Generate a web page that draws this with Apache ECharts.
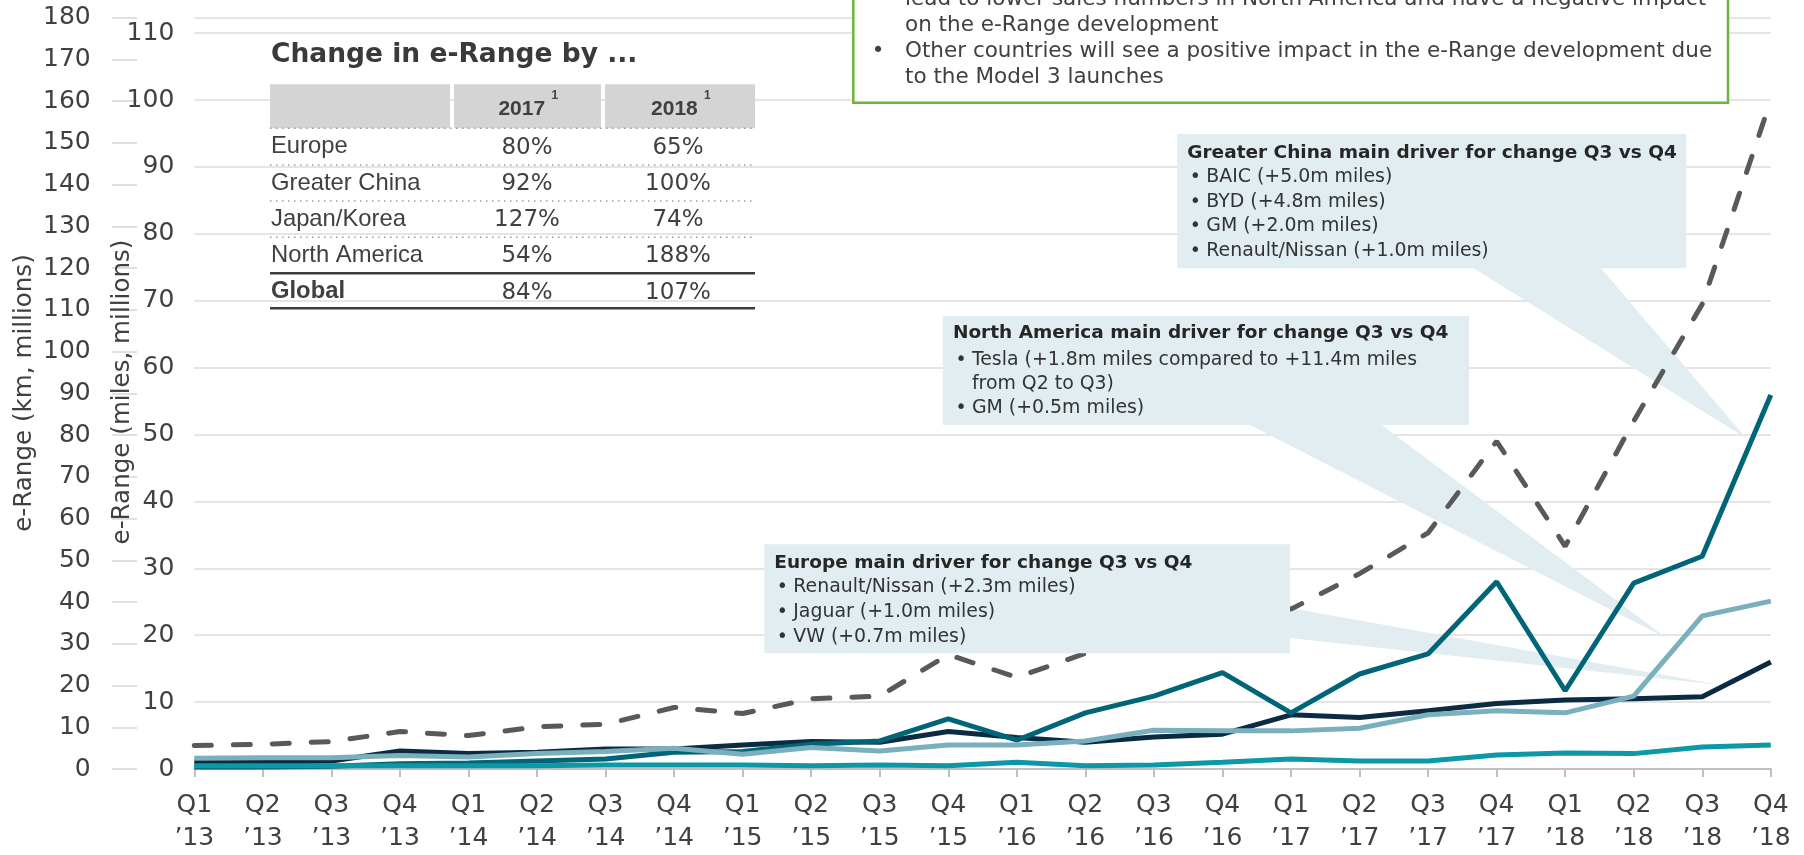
<!DOCTYPE html>
<html><head><meta charset="utf-8">
<script src="https://cdn.jsdelivr.net/npm/echarts@6/dist/echarts.min.js"></script>
<style>html,body{margin:0;padding:0;background:#fff}#c{width:1804px;height:855px}</style>
</head><body><div id="c"></div>
<script>
// ---- data (e-Range, miles, millions) ----
const categories = ["Q1\n’13","Q2\n’13","Q3\n’13","Q4\n’13","Q1\n’14","Q2\n’14","Q3\n’14","Q4\n’14",
  "Q1\n’15","Q2\n’15","Q3\n’15","Q4\n’15","Q1\n’16","Q2\n’16","Q3\n’16","Q4\n’16",
  "Q1\n’17","Q2\n’17","Q3\n’17","Q4\n’17","Q1\n’18","Q2\n’18","Q3\n’18","Q4\n’18"];
const globalMiles = [3.5,3.7,4.1,5.6,5.0,6.3,6.7,9.2,8.3,10.5,10.9,17.1,13.7,17.3,22.0,26.3,23.9,29.2,35.3,49.0,33.3,52.0,69.5,100.0];
const europeMiles = [1.1,1.0,1.2,2.7,2.3,2.5,3.0,3.0,3.6,4.1,4.0,5.6,4.7,4.0,4.8,5.2,8.1,7.7,8.7,9.8,10.3,10.5,10.8,16.0];
const northAmericaMiles = [1.6,1.7,1.7,2.0,1.8,2.3,2.6,3.1,2.2,3.2,2.7,3.6,3.6,4.2,5.8,5.7,5.7,6.1,8.1,8.7,8.4,10.9,22.9,25.1];
const greaterChinaMiles = [0.3,0.3,0.4,0.8,0.9,1.2,1.5,2.5,2.6,3.7,4.2,7.5,4.3,8.4,10.9,14.4,8.4,14.2,17.2,28.0,11.7,27.8,31.8,55.9];
const japanKoreaMiles = [0.5,0.5,0.5,0.5,0.5,0.5,0.6,0.6,0.6,0.5,0.6,0.5,1.0,0.5,0.6,1.0,1.5,1.2,1.2,2.1,2.4,2.3,3.3,3.6];

// ---- table ----
const tableTitle = "Change in e-Range by ...";
const tableYears = ["2017","2018"];
const tableRegions = ["Europe","Greater China","Japan/Korea","North America","Global"];
const change2017 = ["80%","92%","127%","54%","84%"];
const change2018 = ["65%","100%","74%","188%","107%"];

// ---- annotation texts ----
const noteLines = ["lead to lower sales numbers in North America and have a negative impact",
  "on the e-Range development",
  "Other countries will see a positive impact in the e-Range development due",
  "to the Model 3 launches"];
const chinaTitle = "Greater China main driver for change Q3 vs Q4";
const chinaItems = ["BAIC (+5.0m miles)","BYD (+4.8m miles)","GM (+2.0m miles)","Renault/Nissan (+1.0m miles)"];
const naTitle = "North America main driver for change Q3 vs Q4";
const naItems = ["Tesla (+1.8m miles compared to +11.4m miles","from Q2 to Q3)","GM (+0.5m miles)"];
const naBullets = [true,false,true];
const euTitle = "Europe main driver for change Q3 vs Q4";
const euItems = ["Renault/Nissan (+2.3m miles)","Jaguar (+1.0m miles)","VW (+0.7m miles)"];

const DV = "'DejaVu Sans', Verdana, sans-serif";
const LS = "'Liberation Sans', Arial, sans-serif";
const TXT = '#404040';
const BOX = '#e1edf0';

const g = [];
function text(x, y, s, size, opts) {
  opts = opts || {};
  g.push({type:'text', x:x, y:y, z: opts.z || 101, rotation: opts.rot || 0,
    style:{text:s, fontSize:size, fontFamily: opts.family || DV, fontWeight: opts.bold ? 'bold' : 'normal',
      fill: opts.color || TXT, textAlign: opts.align || 'left', textVerticalAlign:'middle'}});
}
function rect(x, y, w, h, style, z) { g.push({type:'rect', z: z || 100, shape:{x:x,y:y,width:w,height:h}, style:style}); }
function hline(x1, x2, y, style, z) { g.push({type:'line', z: z || 100, shape:{x1:x1,y1:y,x2:x2,y2:y}, style:style}); }
function poly(points, z) { g.push({type:'polygon', z: z, shape:{points:points}, style:{fill:BOX}}); }

// axis titles
text(25, 393, "e-Range (km, millions)", 24.6, {rot: Math.PI/2, align:'center'});
text(123, 392, "e-Range (miles, millions)", 24.6, {rot: Math.PI/2, align:'center'});

// table
text(271, 55, tableTitle, 26.5, {bold:true, color:'#3a3a3a'});
rect(270, 84.3, 180, 44, {fill:'#d4d4d4'});
rect(454, 84.3, 147, 44, {fill:'#d4d4d4'});
rect(605, 84.3, 150, 44, {fill:'#d4d4d4'});
text(521.8, 109, tableYears[0], 21, {family:LS, bold:true, align:'center'});
text(551.5, 96, "1", 12, {family:LS, bold:true});
text(674.4, 109, tableYears[1], 21, {family:LS, bold:true, align:'center'});
text(704, 96, "1", 12, {family:LS, bold:true});
const rowY = [146.7, 183.3, 219.3, 255, 291.7];
const dotY = [128.3, 165, 201, 237.3];
dotY.forEach(y => hline(270, 755, y, {stroke:'#9a9a9a', lineWidth:1.5, lineDash:[1.5,4.5]}));
hline(270, 755, 273.3, {stroke:'#3c3c3c', lineWidth:2.5});
hline(270, 755, 308.3, {stroke:'#3c3c3c', lineWidth:2.5});
tableRegions.forEach((r, i) => {
  const bold = i === tableRegions.length - 1;
  text(271, rowY[i], r, 23.8, {family:LS, bold:bold});
  text(527, rowY[i] + 1, change2017[i], 23, {align:'center'});
  text(678, rowY[i] + 1, change2018[i], 23, {align:'center'});
});

// green note box
rect(853.3, -6, 874.7, 108.7, {fill:'#fff', stroke:'#6cb33f', lineWidth:2.5});
const noteY = [-1, 25, 51.5, 77];
noteLines.forEach((s, i) => text(905, noteY[i], s, 21.5));
text(871.7, noteY[0], "•", 21.5);
text(871.7, noteY[2], "•", 21.5);

// callout tails (under series)
poly([[1473.3,268],[1600.7,268],[1746.2,438.3]], 1);
poly([[1250,425],[1381.7,425],[1668,639]], 1);
poly([[1290,608],[1290,638],[1720,685]], 1);

// callout boxes (over series)
function callout(x, y, w, h, title, items, bullets, lineY, titleY) {
  rect(x, y, w, h, {fill:BOX}, 100);
  text(x + 10, titleY, title, 18.5, {bold:true, color:'#262626'});
  items.forEach((s, i) => {
    if (!bullets || bullets[i]) text(x + 12.5, lineY[i], "•", 18.9, {color:'#333'});
    text(x + 29, lineY[i], s, 18.9, {color:'#333'});
  });
}
callout(1177.3, 134, 509, 134.3, chinaTitle, chinaItems, null, [177.3,202,226.5,251.2], 153.3);
callout(942.9, 316, 526.1, 109, naTitle, naItems, naBullets, [360,384.5,408.5], 333.3);
callout(764.3, 544.3, 525.7, 109, euTitle, euItems, null, [587.3,612,636.7], 563.3);

const chart = echarts.init(document.getElementById('c'));
chart.setOption({
  animation:false,
  backgroundColor:'#fff',
  grid:{left:194.3, right:33.2, top:17.5, bottom:83.5, containLabel:false},
  xAxis:{type:'category', data:categories, boundaryGap:false,
    axisLine:{lineStyle:{color:'#bfbfbf', width:2}},
    axisTick:{show:true, length:8, lineStyle:{color:'#bfbfbf', width:2}},
    axisLabel:{color:TXT, fontSize:25, fontFamily:DV, lineHeight:33, margin:20, interval:0}},
  yAxis:[
    {type:'value', min:0, max:112.35, interval:10, position:'left',
      axisLine:{show:false}, axisTick:{show:false},
      axisLabel:{color:TXT, fontSize:25, fontFamily:DV, margin:20},
      splitLine:{lineStyle:{color:'#dcdcdc', width:1.5}}},
    {type:'value', min:0, max:180, interval:10, position:'left', offset:57.3,
      axisLine:{show:false},
      axisTick:{show:true, length:25, lineStyle:{color:'#d6d6d6', width:1.5}},
      axisLabel:{color:TXT, fontSize:25, fontFamily:DV, margin:46.3},
      splitLine:{show:false}}
  ],
  graphic:{elements:g},
  series:[
    {type:'line', name:'Europe', data:europeMiles, symbol:'none', z:2, lineStyle:{color:'#0a2b42', width:5}},
    {type:'line', name:'Greater China', data:greaterChinaMiles, symbol:'none', z:3, lineStyle:{color:'#006577', width:5}},
    {type:'line', name:'North America', data:northAmericaMiles, symbol:'none', z:4, lineStyle:{color:'#7ab0bd', width:5}},
    {type:'line', name:'Japan/Korea', data:japanKoreaMiles, symbol:'none', z:5, lineStyle:{color:'#0c98a6', width:5}},
    {type:'line', name:'Global', data:globalMiles, symbol:'none', z:6, lineStyle:{color:'#595959', width:5, type:[17,22], cap:'round'}}
  ]
});
</script></body></html>
